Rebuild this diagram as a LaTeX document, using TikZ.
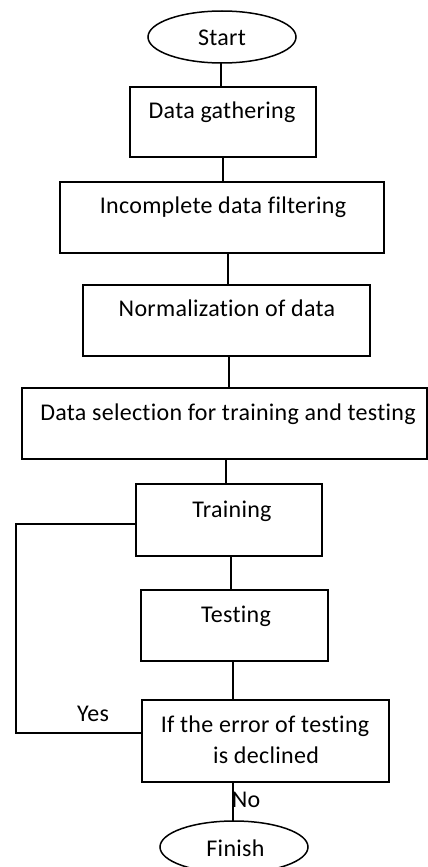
\documentclass[tikz,border=0pt]{standalone}
\usepackage{fontspec}
\setmainfont{Carlito}[Ligatures=NoCommon, LetterSpace=1.2]
\usetikzlibrary{shapes.geometric}
\begin{document}
\begin{tikzpicture}[x=1pt,y=-1pt, line width=1.5pt,
 box/.style={draw, rectangle, inner sep=0pt, outer sep=0pt},
 term/.style={draw, ellipse, inner sep=0pt, outer sep=0pt, minimum width=148pt, minimum height=52pt},
 txt/.style={font=\fontsize{24}{28}\selectfont, anchor=base, inner sep=0pt}]
\useasboundingbox (0,0) rectangle (428,867);
% shapes
\node[term] (start) at (222,37) {};
\node[box, minimum width=186pt, minimum height=70pt] (data) at (223,122) {};
\node[box, minimum width=324pt, minimum height=71pt] (incomplete) at (222,217.5) {};
\node[box, minimum width=287pt, minimum height=71pt] (norm) at (226.5,320.5) {};
\node[box, minimum width=405pt, minimum height=71pt] (select) at (224.5,423.5) {};
\node[box, minimum width=186pt, minimum height=72pt] (training) at (229,520) {};
\node[box, minimum width=187pt, minimum height=71pt] (testing) at (234.5,625.5) {};
\node[box, minimum width=247pt, minimum height=82pt] (decision) at (265.5,741) {};
\node[term] (finish) at (234,847) {};
% texts
\node[txt] (tstart) at (222,46) {Start};
\node[txt] (tdata) at (222,118) {Data gathering};
\node[txt] (tinc) at (223,213) {Incomplete data filtering};
\node[txt] (tnorm) at (227,316) {Normalization of data};
\node[txt] (tsel) at (228,420) {Data selection for training and testing};
\node[txt] (ttrain) at (232,517) {Training};
\node[txt] (ttest) at (236,622) {Testing};
\node[txt] (tdec1) at (265,732) {If the error of testing};
\node[txt] (tdec2) at (266,763) {is declined};
\node[txt] (tyes) at (93,721) {Yes};
\node[txt] (tno) at (246,807) {No};
\node[txt] (tfin) at (235.5,856) {Finish};
% connectors
\draw (start.south -| 221,0) -- (data.north -| 221,0);
\draw (data.south -| 223,0) -- (incomplete.north -| 223,0);
\draw (incomplete.south -| 228,0) -- (norm.north -| 228,0);
\draw (norm.south -| 229,0) -- (select.north -| 229,0);
\draw (select.south -| 226,0) -- (training.north -| 226,0);
\draw (training.south -| 231,0) -- (testing.north -| 231,0);
\draw (testing.south -| 233,0) -- (decision.north -| 233,0);
\draw (decision.south -| 233,0) -- (finish.north -| 233,0);
\draw (training.west |- 0,524) -| (16,733) -- (decision.west |- 0,733);
\end{tikzpicture}
\end{document}
